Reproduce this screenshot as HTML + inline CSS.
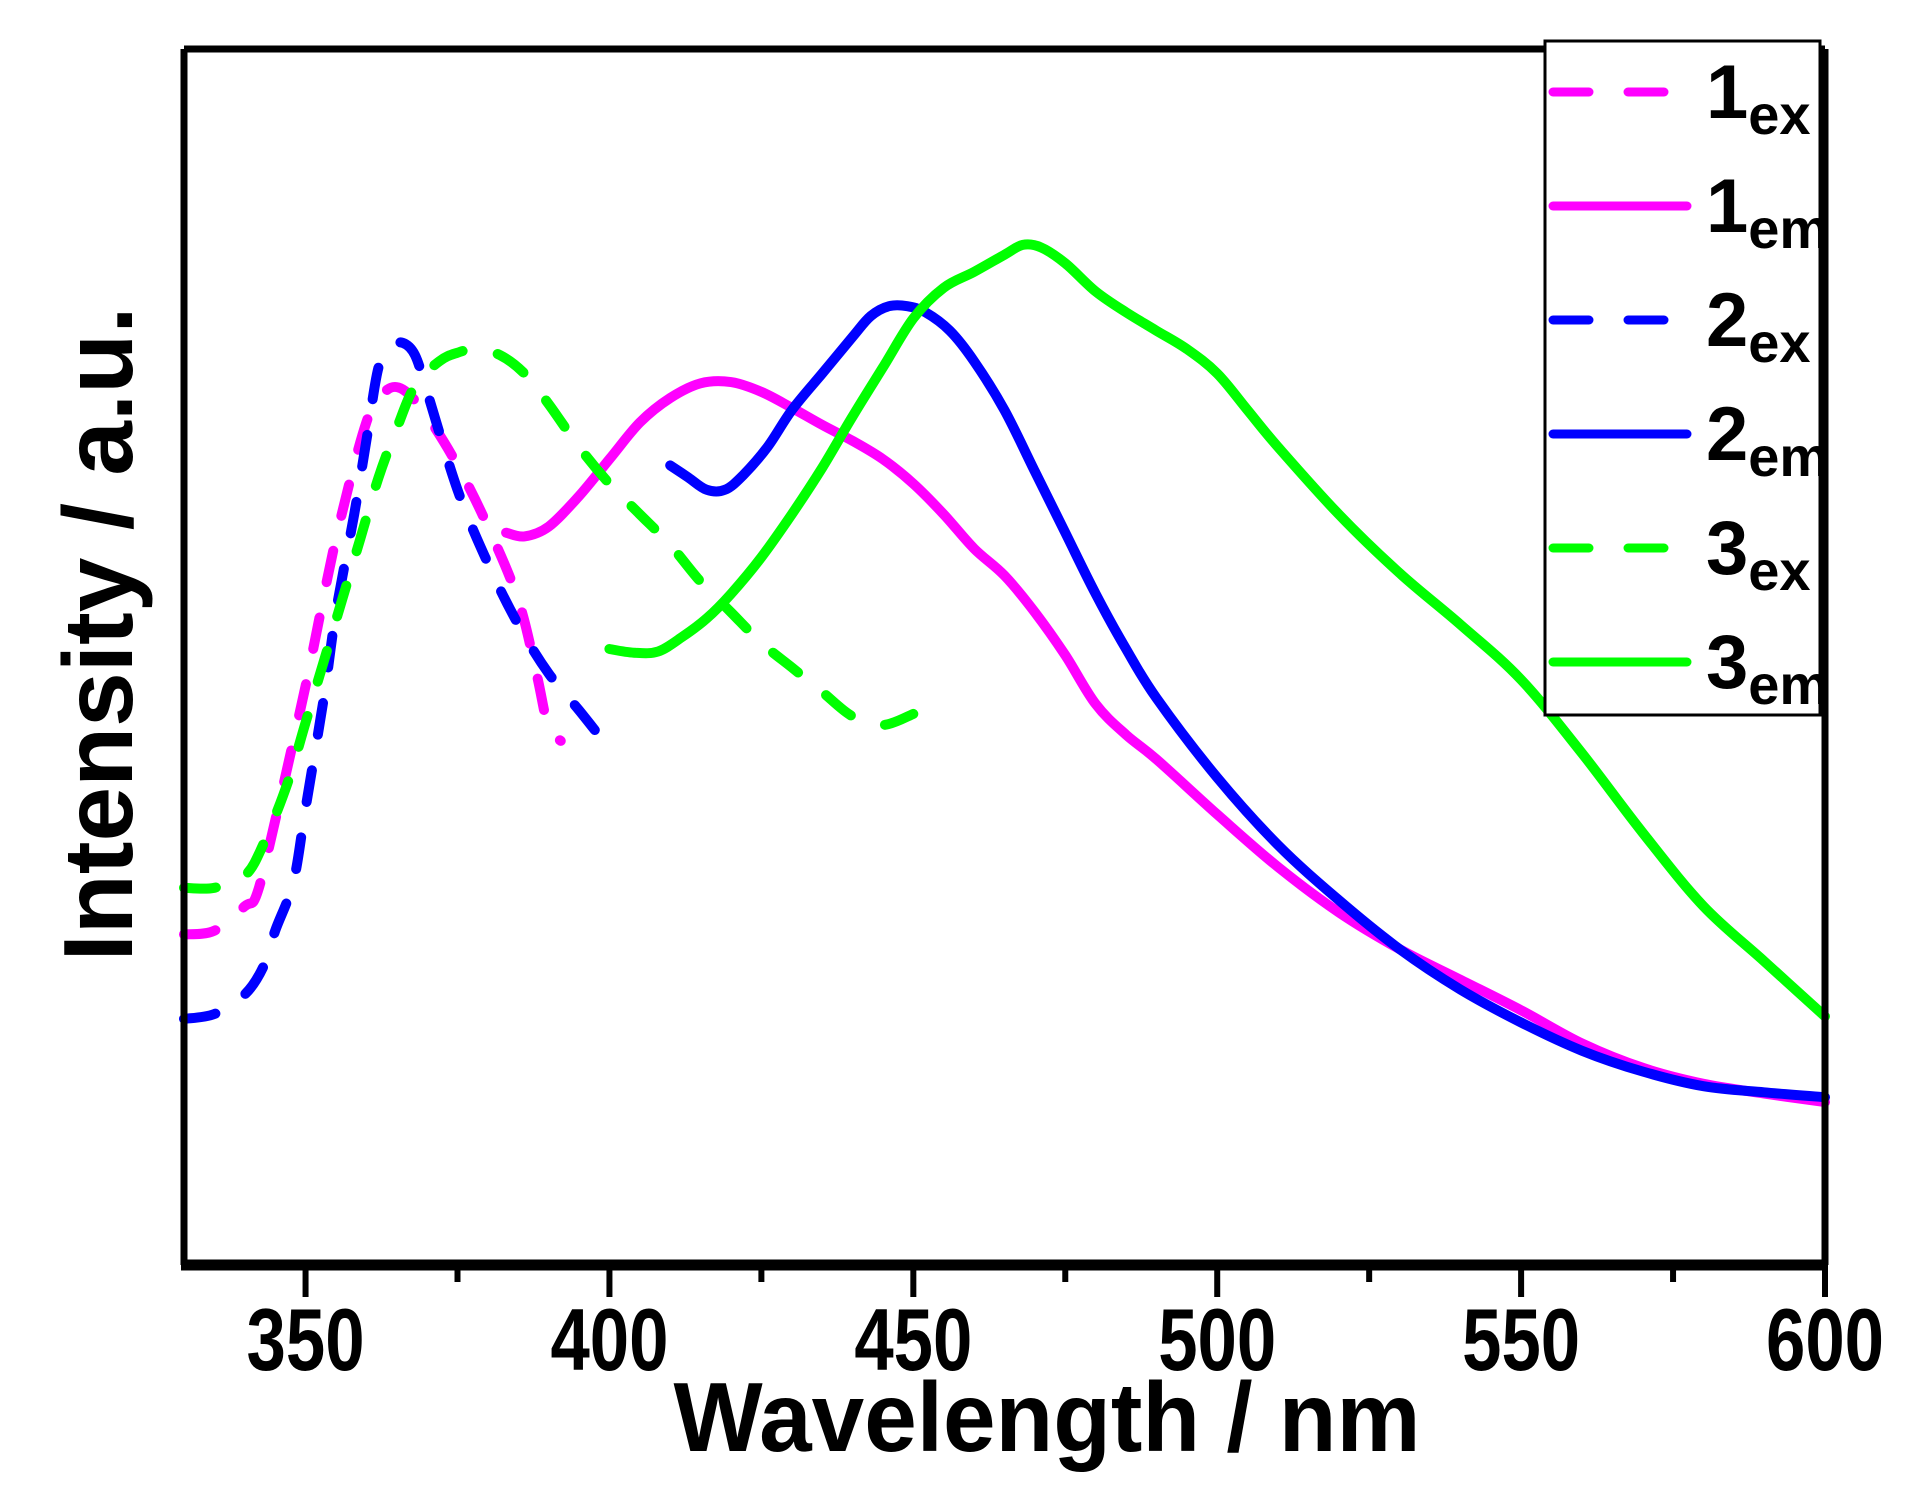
<!DOCTYPE html>
<html><head><meta charset="utf-8"><style>
html,body{margin:0;padding:0;background:#fff;}
svg{display:block;font-family:"Liberation Sans",Arial,sans-serif;font-weight:bold;}
</style></head><body>
<svg id="chart" width="1920" height="1506" viewBox="0 0 1920 1506" xmlns="http://www.w3.org/2000/svg">
<g id="series"></g>
<g id="frame">
 <line x1="184" y1="49" x2="1825" y2="49" stroke="#000" stroke-width="7"/>
 <line x1="184" y1="49" x2="184" y2="1265" stroke="#000" stroke-width="7"/>
 <line x1="1825" y1="49" x2="1825" y2="1265" stroke="#000" stroke-width="7"/>
 <line x1="181" y1="1265" x2="1828" y2="1265" stroke="#000" stroke-width="11"/>
</g>
<g id="xticks"></g>
<text x="1047" y="1451" font-size="98" text-anchor="middle" textLength="747" lengthAdjust="spacingAndGlyphs">Wavelength / nm</text>
<text transform="translate(132,634) rotate(-90)" x="0" y="0" font-size="98" text-anchor="middle" textLength="655" lengthAdjust="spacingAndGlyphs">Intensity / a.u.</text>
<g id="legend">
 <rect x="1545" y="41" width="275" height="674" fill="#fff" stroke="#000" stroke-width="3"/>
</g>
</svg>
<script>
const NS="http://www.w3.org/2000/svg";
const xTicks=[350,400,450,500,550,600];
const xMinorTicks=[375,425,475,525,575];
const ex1X=[330,335,340,342,345,350,355,360,363,366,370,375,380,385,388,390,392];
const ex1Y=[270,273,293,303,363,473,593,688,713,715,693,653,603,543,483,438,428];
const em1X=[383,386,390,395,400,405,410,415,420,425,430,435,440,445,450,455,460,465,470,475,480,485,490,500,510,520,530,540,550,560,570,580,590,600];
const em1Y=[598,595,603,628,658,688,708,720,721,713,700,686,673,658,638,613,585,563,533,498,458,433,413,368,325,288,258,233,208,181,161,148,140,133];
const ex2X=[330,335,340,343,345,348,350,353,355,358,360,362,364,366,368,370,375,380,385,390,395,399];
const ex2Y=[201,205,221,243,273,313,373,463,533,613,673,733,750,753,743,713,633,573,523,483,453,428];
const em2X=[410,413,416,419,422,426,430,435,440,443,446,449,452,456,460,465,470,475,480,485,490,500,510,520,530,540,550,560,570,580,590,600];
const em2Y=[653,643,633,633,645,668,698,728,758,775,783,783,778,763,738,698,648,598,548,503,463,398,343,298,258,225,198,175,158,146,141,137];
const ex3X=[330,335,340,343,347,350,353,356,359,362,365,368,372,375,378,382,386,390,395,400,405,410,415,420,425,430,435,440,445,450];
const ex3Y=[308,308,318,343,393,443,493,543,593,643,683,718,738,745,748,743,728,703,668,638,613,588,558,533,508,488,468,448,441,450];
const em3X=[400,404,408,412,416,420,425,430,435,440,445,450,455,460,465,468,471,475,480,485,490,495,500,505,510,520,530,540,550,560,570,580,590,600];
const em3Y=[503,500,501,513,528,548,578,613,651,693,733,773,798,811,825,833,831,818,795,778,763,748,728,698,668,613,565,523,478,418,353,293,248,203];
const legendLabels=["1","1","2","2","3","3"];
const legendSubs=["ex","em","ex","em","ex","em"];

const X0=184,X1=1825,XMIN=330,XMAX=600,Y0=1265,Y1=49,YMAX=993;
const sx=v=>X0+(v-XMIN)*(X1-X0)/(XMAX-XMIN);
const sy=v=>Y0-v*(Y0-Y1)/YMAX;

const seriesDefs=[
 {name:"1ex",x:ex1X,y:ex1Y,c:"#ff00ff",d:true},
 {name:"1em",x:em1X,y:em1Y,c:"#ff00ff",d:false},
 {name:"2ex",x:ex2X,y:ex2Y,c:"#0000ff",d:true},
 {name:"2em",x:em2X,y:em2Y,c:"#0000ff",d:false},
 {name:"3ex",x:ex3X,y:ex3Y,c:"#00ff00",d:true},
 {name:"3em",x:em3X,y:em3Y,c:"#00ff00",d:false}
];
function smoothPath(xs,ys){
 const p=xs.map((x,i)=>[sx(x),sy(ys[i])]);
 let d="M"+p[0][0].toFixed(1)+","+p[0][1].toFixed(1);
 for(let i=0;i<p.length-1;i++){
  const a=p[i-1]||p[i],b=p[i],c=p[i+1],e=p[i+2]||c;
  const c1=[b[0]+(c[0]-a[0])/6,b[1]+(c[1]-a[1])/6];
  const c2=[c[0]-(e[0]-b[0])/6,c[1]-(e[1]-b[1])/6];
  d+=" C"+c1[0].toFixed(1)+","+c1[1].toFixed(1)+" "+c2[0].toFixed(1)+","+c2[1].toFixed(1)+" "+c[0].toFixed(1)+","+c[1].toFixed(1);
 }
 return d;
}
const sg=document.getElementById("series");
seriesDefs.forEach(s=>{
 const p=document.createElementNS(NS,"path");
 p.setAttribute("d",smoothPath(s.x,s.y));
 p.setAttribute("fill","none");
 p.setAttribute("stroke",s.c);
 p.setAttribute("stroke-width","10");
 p.setAttribute("stroke-linecap","round");
 p.setAttribute("stroke-linejoin","round");
 if(s.d)p.setAttribute("stroke-dasharray","32 36");
 
 
 sg.appendChild(p);
});
const xt=document.getElementById("xticks");
xTicks.forEach(v=>{
 const l=document.createElementNS(NS,"line");
 l.setAttribute("x1",sx(v));l.setAttribute("x2",sx(v));
 l.setAttribute("y1",1265);l.setAttribute("y2",1297);
 l.setAttribute("stroke","#000");l.setAttribute("stroke-width","6");
 
 
 xt.appendChild(l);
 const t=document.createElementNS(NS,"text");
 t.setAttribute("x",sx(v));t.setAttribute("y",1370);
 t.setAttribute("font-size","88");t.setAttribute("text-anchor","middle");
 t.setAttribute("textLength","118");t.setAttribute("lengthAdjust","spacingAndGlyphs");
 t.textContent=v;
 
 
 xt.appendChild(t);
});
xMinorTicks.forEach(v=>{
 const l=document.createElementNS(NS,"line");
 l.setAttribute("x1",sx(v));l.setAttribute("x2",sx(v));
 l.setAttribute("y1",1265);l.setAttribute("y2",1282);
 l.setAttribute("stroke","#000");l.setAttribute("stroke-width","6");
 
 
 xt.appendChild(l);
});
const lg=document.getElementById("legend");
seriesDefs.forEach((s,i)=>{
 const y=92+i*114;
 const g=document.createElementNS(NS,"g");
 
 
 const l=document.createElementNS(NS,"line");
 l.setAttribute("x1",1553);l.setAttribute("x2",1687);
 l.setAttribute("y1",y);l.setAttribute("y2",y);
 l.setAttribute("stroke",s.c);l.setAttribute("stroke-width","9");
 l.setAttribute("stroke-linecap","round");
 if(s.d)l.setAttribute("stroke-dasharray","36 39");
 
 
 g.appendChild(l);
 const t=document.createElementNS(NS,"text");
 t.setAttribute("x",1706);t.setAttribute("y",y+26);
 t.setAttribute("font-size","76");
 t.textContent=legendLabels[i];
 const ts=document.createElementNS(NS,"tspan");
 ts.setAttribute("font-size","56");ts.setAttribute("dy","16");
 ts.textContent=legendSubs[i];
 t.appendChild(ts);
 
 
 g.appendChild(t);
 lg.appendChild(g);
});
</script>
</body></html>
